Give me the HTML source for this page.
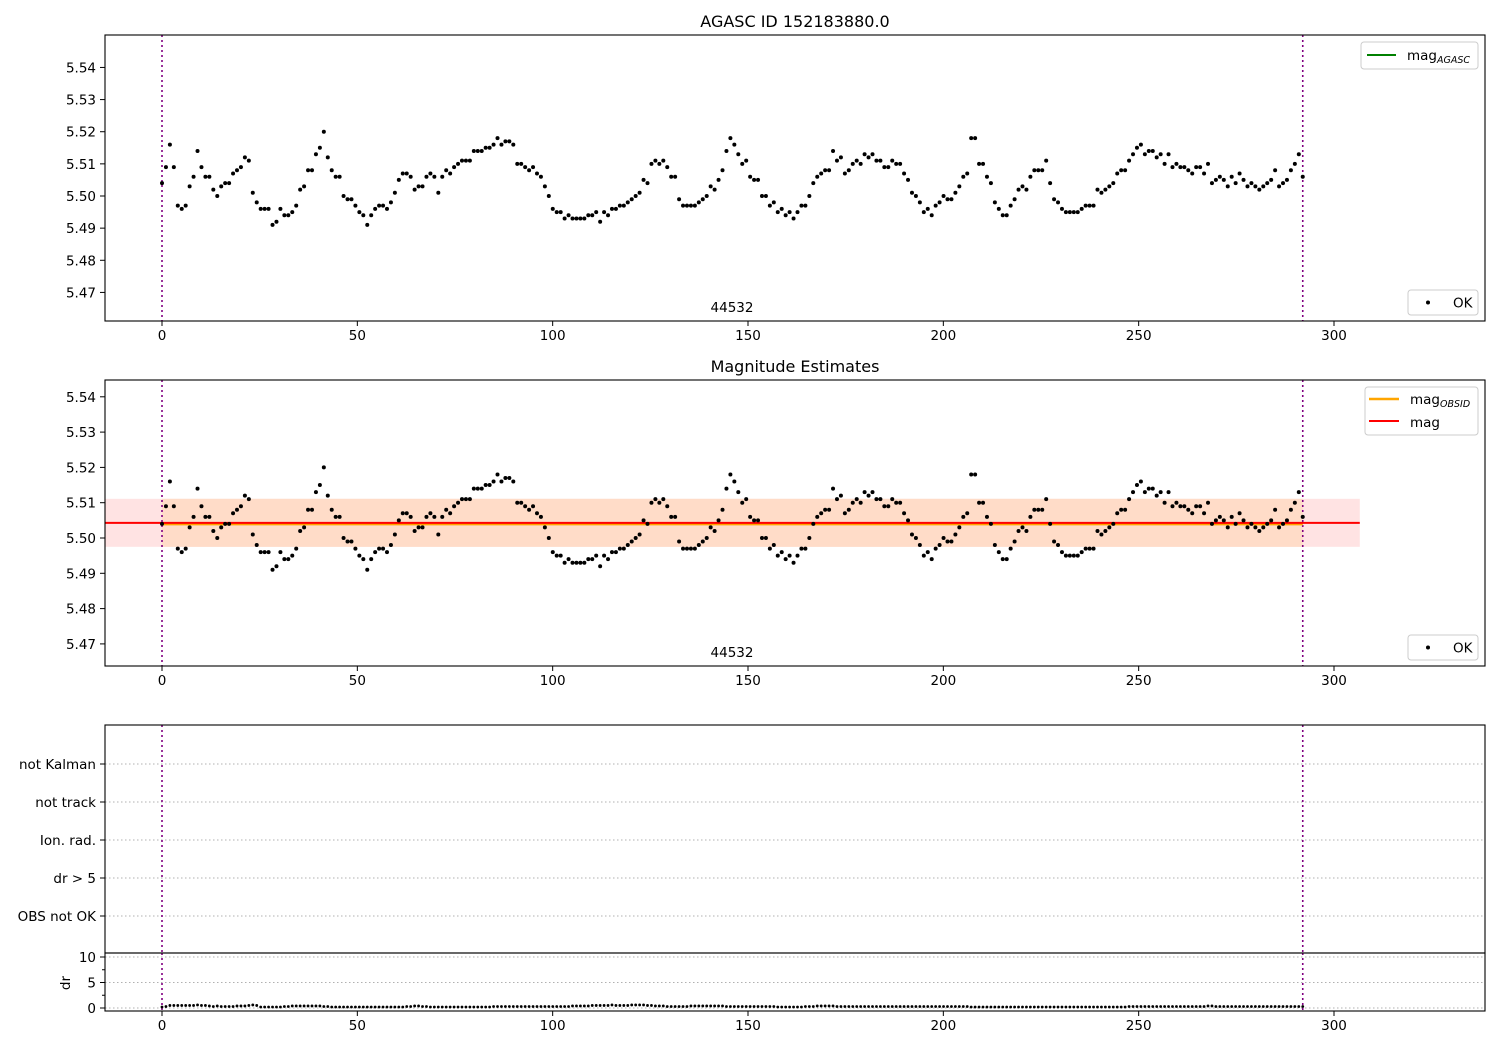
<!DOCTYPE html>
<html><head><meta charset="utf-8"><style>
html,body{margin:0;padding:0;background:#fff;}
svg{display:block;font-family:"DejaVu Sans","Liberation Sans",sans-serif;}
</style></head><body>
<svg id="chart" width="1500" height="1050" viewBox="0 0 1500 1050" xmlns="http://www.w3.org/2000/svg">
<rect width="1500" height="1050" fill="#fff"/>
<text x="795" y="27" font-size="16" text-anchor="middle">AGASC ID 152183880.0</text>
<text x="795" y="372" font-size="16" text-anchor="middle">Magnitude Estimates</text>
<g id="g1"></g>
<g id="g2"></g>
<g id="g3"></g>
<g id="g4"></g>
</svg>
<script>
const mag = [5.504,5.509,5.516,5.509,5.497,5.496,5.497,5.503,5.506,5.514,5.509,5.506,5.506,5.502,5.500,5.503,5.504,5.504,5.507,5.508,
5.509,5.512,5.511,5.501,5.498,5.496,5.496,5.496,5.491,5.492,5.496,5.494,5.494,5.495,5.497,5.502,5.503,5.508,5.508,5.513,
5.515,5.520,5.512,5.508,5.506,5.506,5.500,5.499,5.499,5.497,5.495,5.494,5.491,5.494,5.496,5.497,5.497,5.496,5.498,5.501,
5.505,5.507,5.507,5.506,5.502,5.503,5.503,5.506,5.507,5.506,5.501,5.506,5.508,5.507,5.509,5.510,5.511,5.511,5.511,5.514,
5.514,5.514,5.515,5.515,5.516,5.518,5.516,5.517,5.517,5.516,5.510,5.510,5.509,5.508,5.509,5.507,5.506,5.503,5.500,5.496,
5.495,5.495,5.493,5.494,5.493,5.493,5.493,5.493,5.494,5.494,5.495,5.492,5.495,5.494,5.496,5.496,5.497,5.497,5.498,5.499,
5.500,5.501,5.505,5.504,5.510,5.511,5.510,5.511,5.509,5.506,5.506,5.499,5.497,5.497,5.497,5.497,5.498,5.499,5.500,5.503,
5.502,5.505,5.508,5.514,5.518,5.516,5.513,5.510,5.511,5.506,5.505,5.505,5.500,5.500,5.497,5.498,5.495,5.496,5.494,5.495,
5.493,5.495,5.497,5.497,5.500,5.504,5.506,5.507,5.508,5.508,5.514,5.511,5.512,5.507,5.508,5.510,5.511,5.510,5.513,5.512,
5.513,5.511,5.511,5.509,5.509,5.511,5.510,5.510,5.507,5.505,5.501,5.500,5.498,5.495,5.496,5.494,5.497,5.498,5.500,5.499,
5.499,5.501,5.503,5.506,5.507,5.518,5.518,5.510,5.510,5.506,5.504,5.498,5.496,5.494,5.494,5.497,5.499,5.502,5.503,5.502,
5.506,5.508,5.508,5.508,5.511,5.504,5.499,5.498,5.496,5.495,5.495,5.495,5.495,5.496,5.497,5.497,5.497,5.502,5.501,5.502,
5.503,5.504,5.507,5.508,5.508,5.511,5.513,5.515,5.516,5.513,5.514,5.514,5.512,5.513,5.510,5.513,5.509,5.510,5.509,5.509,
5.508,5.507,5.509,5.509,5.507,5.510,5.504,5.505,5.506,5.505,5.503,5.506,5.504,5.507,5.505,5.503,5.504,5.503,5.502,5.503,
5.504,5.505,5.508,5.503,5.504,5.505,5.508,5.510,5.513,5.506];
const dr = [0.2,0.3,0.5,0.5,0.5,0.5,0.5,0.5,0.5,0.6,0.5,0.5,0.4,0.3,0.4,0.3,0.3,0.3,0.3,0.4,
0.4,0.4,0.5,0.6,0.5,0.2,0.2,0.2,0.2,0.2,0.2,0.3,0.3,0.4,0.4,0.4,0.4,0.4,0.4,0.4,
0.4,0.3,0.3,0.2,0.2,0.2,0.2,0.2,0.2,0.2,0.2,0.2,0.2,0.2,0.2,0.2,0.2,0.2,0.2,0.2,
0.2,0.2,0.3,0.3,0.4,0.4,0.3,0.3,0.2,0.2,0.2,0.2,0.2,0.2,0.2,0.2,0.2,0.2,0.2,0.2,
0.2,0.2,0.2,0.2,0.3,0.3,0.3,0.3,0.3,0.3,0.3,0.3,0.3,0.3,0.3,0.3,0.3,0.3,0.3,0.3,
0.3,0.3,0.3,0.3,0.4,0.4,0.4,0.4,0.4,0.5,0.5,0.5,0.5,0.5,0.6,0.5,0.5,0.5,0.5,0.6,
0.6,0.6,0.6,0.5,0.5,0.4,0.4,0.4,0.3,0.3,0.3,0.3,0.3,0.3,0.4,0.4,0.4,0.4,0.4,0.4,
0.4,0.4,0.4,0.3,0.3,0.3,0.3,0.3,0.3,0.3,0.3,0.3,0.3,0.3,0.3,0.3,0.2,0.2,0.2,0.2,
0.2,0.2,0.2,0.3,0.3,0.3,0.4,0.4,0.4,0.4,0.4,0.3,0.3,0.3,0.3,0.3,0.3,0.3,0.3,0.3,
0.3,0.3,0.3,0.3,0.3,0.3,0.3,0.3,0.3,0.3,0.3,0.3,0.3,0.3,0.3,0.3,0.3,0.3,0.3,0.3,
0.3,0.3,0.3,0.3,0.3,0.2,0.2,0.2,0.2,0.2,0.2,0.2,0.2,0.2,0.2,0.2,0.2,0.2,0.2,0.2,
0.2,0.2,0.2,0.2,0.2,0.2,0.2,0.2,0.2,0.2,0.2,0.2,0.2,0.2,0.2,0.2,0.2,0.2,0.2,0.2,
0.2,0.2,0.2,0.2,0.2,0.3,0.3,0.3,0.3,0.3,0.3,0.3,0.3,0.3,0.3,0.3,0.3,0.3,0.3,0.3,
0.3,0.3,0.3,0.3,0.3,0.4,0.4,0.3,0.3,0.3,0.3,0.3,0.3,0.3,0.3,0.3,0.3,0.3,0.3,0.3,
0.3,0.3,0.3,0.3,0.3,0.3,0.3,0.3,0.3,0.3];
const xTicks = [0,50,100,150,200,250,300];
const magTicks = [5.47,5.48,5.49,5.50,5.51,5.52,5.53,5.54];
const flagLabels = ["not Kalman","not track","Ion. rad.","dr > 5","OBS not OK"];
const drTicks = [0,5,10];
const tStart = 0, tEnd = 292;
const meanMag = 5.5043, sigMag = 0.0068;
const bandX = [-14.6, 306.6];
const obsLabel = "44532";

const NS="http://www.w3.org/2000/svg";
const L=105,R=1485;
const px = x => 162 + x*(1334-162)/300;
const py1 = m => 196 - (m-5.50)*3214;
const py2 = m => 538 - (m-5.50)*3530;
const py4 = d => 1008 - d*5.1;
const xOf = i => tStart + i*(tEnd-tStart)/(mag.length-1);
function el(p,tag,a,txt){const e=document.createElementNS(NS,tag);for(const k in a)e.setAttribute(k,a[k]);if(txt!==undefined)e.textContent=txt;p.appendChild(e);return e;}

function frame(g,top,bot,name){
  const r=el(g,'rect',{x:L,y:top,width:R-L,height:bot-top,fill:'none',stroke:'#000','stroke-width':1.1});
  
  
}
function xAxis(g,bot,name){
  xTicks.forEach(t=>{
    el(g,'line',{x1:px(t),x2:px(t),y1:bot,y2:bot+5,stroke:'#000'});
    const tx=el(g,'text',{x:px(t),y:bot+19,'font-size':13.5,'text-anchor':'middle'},String(t));
    
    
  });
}
function vlines(g,top,bot){
  [tStart,tEnd].forEach(t=>{
    const v=el(g,'line',{x1:px(t),x2:px(t),y1:top,y2:bot,stroke:'#800080','stroke-width':1.6,'stroke-dasharray':'2,3'});
    
    
  });
}
function magAxis(g,py,name){
  magTicks.forEach(t=>{
    el(g,'line',{x1:L-5,x2:L,y1:py(t),y2:py(t),stroke:'#000'});
    const tx=el(g,'text',{x:L-9,y:py(t)+5,'font-size':13.5,'text-anchor':'end'},t.toFixed(2));
    
    
  });
}
function dots(g,py,vals,r){
  vals.forEach((v,i)=>{
    const c=el(g,'circle',{cx:px(xOf(i)),cy:py(v),r:r,fill:'#000'});
    
    
  });
}
function okLegend(g,y){
  const b=el(g,'rect',{x:1408,y:y,width:70,height:25,rx:3,fill:'#fff',stroke:'#ccc'});
  
  
  el(g,'circle',{cx:1428,cy:y+12.5,r:2,fill:'#000'});
  el(g,'text',{x:1453,y:y+17.5,'font-size':13.5},'OK');
}

// Panel 1
const g1=document.getElementById('g1');
vlines(g1,35,321);
dots(g1,py1,mag,2);
frame(g1,35,321,'agasc');
magAxis(g1,py1,'agasc');
xAxis(g1,321,'agasc');
el(g1,'text',{x:732,y:312,'font-size':13.5,'text-anchor':'middle'},obsLabel);
const lg1=el(g1,'rect',{x:1361,y:42,width:117,height:27,rx:3,fill:'#fff',stroke:'#ccc'});


el(g1,'line',{x1:1367,x2:1396,y1:55,y2:55,stroke:'#008000','stroke-width':2});
const t1=el(g1,'text',{x:1407,y:60,'font-size':13.5},'mag');
el(t1,'tspan',{'font-size':9.5,'font-style':'italic',dy:3},'AGASC');
okLegend(g1,290);

// Panel 2
const g2=document.getElementById('g2');
const b1=el(g2,'rect',{x:px(bandX[0]),y:py2(meanMag+sigMag),width:px(bandX[1])-px(bandX[0]),height:py2(meanMag-sigMag)-py2(meanMag+sigMag),fill:'#ffe3e3'});


const b2=el(g2,'rect',{x:px(tStart),y:py2(meanMag+sigMag),width:px(tEnd)-px(tStart),height:py2(meanMag-sigMag)-py2(meanMag+sigMag),fill:'#ffdcc8'});


vlines(g2,380,666);
const ol=el(g2,'line',{x1:px(tStart),x2:px(tEnd),y1:py2(meanMag)+1.5,y2:py2(meanMag)+1.5,stroke:'#ffa500','stroke-width':2});


const rl=el(g2,'line',{x1:px(bandX[0]),x2:px(bandX[1]),y1:py2(meanMag),y2:py2(meanMag),stroke:'#ff0000','stroke-width':2});


dots(g2,py2,mag,2);
frame(g2,380,666,'estimates');
magAxis(g2,py2,'estimates');
xAxis(g2,666,'estimates');
el(g2,'text',{x:732,y:657,'font-size':13.5,'text-anchor':'middle'},obsLabel);
const lg2=el(g2,'rect',{x:1365,y:387,width:113,height:48,rx:3,fill:'#fff',stroke:'#ccc'});


el(g2,'line',{x1:1369,x2:1399,y1:399,y2:399,stroke:'#ffa500','stroke-width':2.5});
const t2=el(g2,'text',{x:1410,y:404,'font-size':13.5},'mag');
el(t2,'tspan',{'font-size':9.5,'font-style':'italic',dy:3},'OBSID');
el(g2,'line',{x1:1369,x2:1399,y1:421,y2:421,stroke:'#ff0000','stroke-width':2});
el(g2,'text',{x:1410,y:427,'font-size':13.5},'mag');
okLegend(g2,635);

// Panel 3
const g3=document.getElementById('g3');
flagLabels.forEach((f,i)=>{
  const y=764+i*38;
  el(g3,'line',{x1:L,x2:R,y1:y,y2:y,stroke:'#b0b0b0','stroke-dasharray':'1.5,2.5'});
  el(g3,'line',{x1:L-5,x2:L,y1:y,y2:y,stroke:'#000'});
  const tx=el(g3,'text',{x:L-9,y:y+5,'font-size':13.5,'text-anchor':'end'},f);
  
  
});
vlines(g3,725,953);
frame(g3,725,953,'flags');

// Panel 4
const g4=document.getElementById('g4');
drTicks.forEach(t=>{
  el(g4,'line',{x1:L,x2:R,y1:py4(t),y2:py4(t),stroke:'#b0b0b0','stroke-dasharray':'1.5,2.5'});
  el(g4,'line',{x1:L-5,x2:L,y1:py4(t),y2:py4(t),stroke:'#000'});
  const tx=el(g4,'text',{x:L-9,y:py4(t)+5,'font-size':13.5,'text-anchor':'end'},String(t));
  
  
});
[2.5,7.5].forEach(t=>el(g4,'line',{x1:L-3,x2:L,y1:py4(t),y2:py4(t),stroke:'#000'}));
vlines(g4,953,1011);
dr.forEach((v,i)=>{
  const c=el(g4,'circle',{cx:px(xOf(i)),cy:py4(v),r:1.4,fill:'#000'});
  
  
});
frame(g4,953,1011,'dr');
xAxis(g4,1011,'dr');
const yl=el(g4,'text',{x:0,y:0,'font-size':13.5,'text-anchor':'middle',transform:'translate(70,983) rotate(-90)'},'dr');


</script>
</body></html>
